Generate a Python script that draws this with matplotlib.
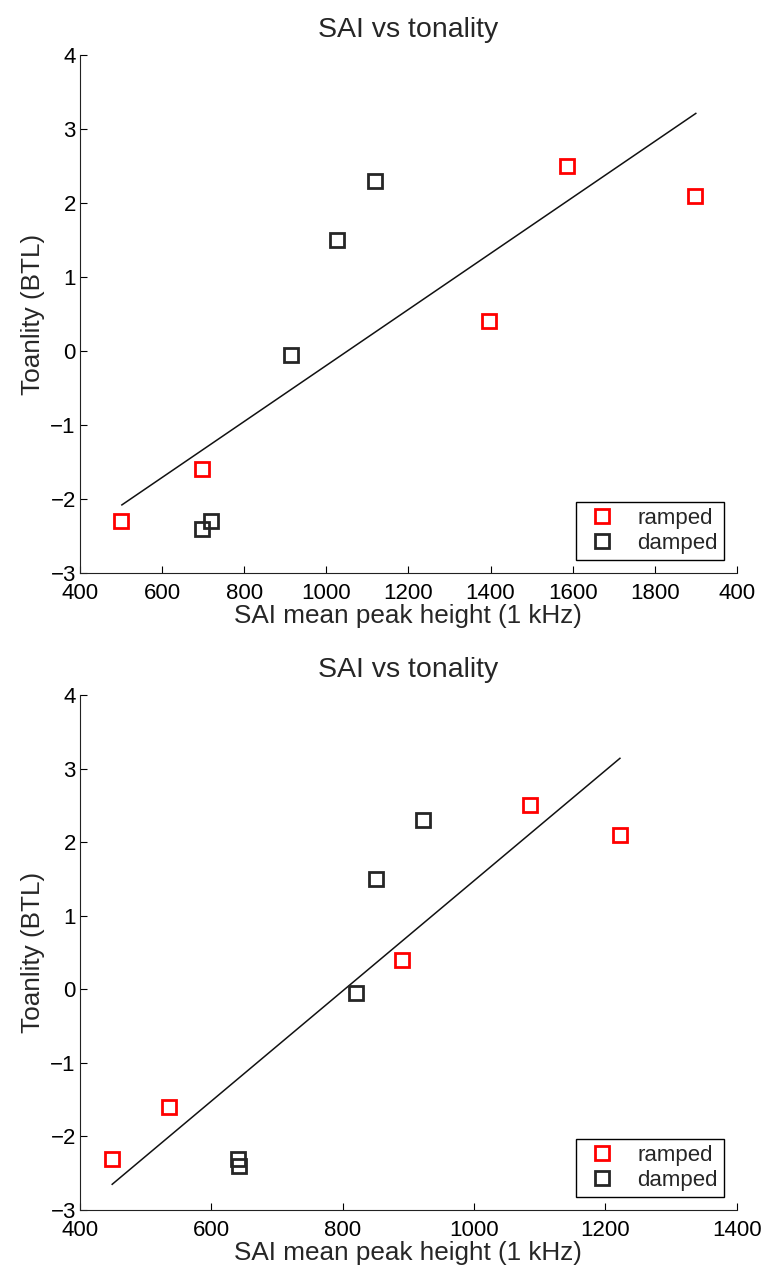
import matplotlib
matplotlib.use('Agg')
import matplotlib.pyplot as plt

plt.rcParams['font.family'] = ['Liberation Sans', 'DejaVu Sans']

# tonality (BTL) values, shared by both panels
ramped_y = [-2.3, -1.6, 0.4, 2.5, 2.1]
damped_y = [-2.4, -2.3, -0.05, 1.5, 2.3]

# panel 1: SAI mean peak height
top_ramped_x = [500, 697, 1397, 1587, 1897]
top_damped_x = [698, 718, 914, 1025, 1118]
top_fit_x = [502, 1900]
top_fit_y = [-2.08, 3.21]
top_xticks = [400, 600, 800, 1000, 1200, 1400, 1600, 1800, 2000]
top_xticklabels = ['400', '600', '800', '1000', '1200', '1400', '1600', '1800', '400']

# panel 2
bot_ramped_x = [448, 535, 890, 1085, 1222]
bot_damped_x = [641, 642, 820, 850, 922]
bot_damped_y = [-2.3, -2.4, -0.05, 1.5, 2.3]
bot_fit_x = [449, 1222]
bot_fit_y = [-2.65, 3.14]
bot_xticks = [400, 600, 800, 1000, 1200, 1400]

yticks = [-3, -2, -1, 0, 1, 2, 3, 4]
yticklabels = ['\u22123', '\u22122', '\u22121', '0', '1', '2', '3', '4']

text_color = '#262626'

fig = plt.figure(figsize=(7.62, 12.66), dpi=100)
ax1 = fig.add_axes([0.105, 0.5474, 0.862, 0.4092])
ax2 = fig.add_axes([0.105, 0.0442, 0.862, 0.4068])

panels = [
	(ax1, top_ramped_x, ramped_y, top_damped_x, damped_y, top_fit_x, top_fit_y, (400, 2000), top_xticks, top_xticklabels),
	(ax2, bot_ramped_x, ramped_y, bot_damped_x, bot_damped_y, bot_fit_x, bot_fit_y, (400, 1400), bot_xticks, [str(t) for t in bot_xticks]),
]

for ax, rx, ry, dx, dy, fx, fy, xlim, xt, xtl in panels:
	ax.plot(fx, fy, color='#111111', linewidth=1.1)
	ax.plot(rx, ry, 's', markersize=9.5, markerfacecolor='none', markeredgecolor='#ff0000', markeredgewidth=2, label='ramped', linestyle='none')
	ax.plot(dx, dy, 's', markersize=9.5, markerfacecolor='none', markeredgecolor='#262626', markeredgewidth=2, label='damped', linestyle='none')

	ax.set_xlim(*xlim)
	ax.set_ylim(-3, 4)
	ax.set_xticks(xt)
	ax.set_xticklabels(xtl)
	ax.set_yticks(yticks)
	ax.set_yticklabels(yticklabels)
	ax.spines['top'].set_visible(False)
	ax.spines['right'].set_visible(False)
	ax.spines['left'].set_color('#222222')
	ax.spines['bottom'].set_color('#222222')
	ax.tick_params(direction='in', length=5, labelsize=16, pad=3)
	ax.tick_params(axis='x', pad=7)
	ax.set_title('SAI vs tonality', fontsize=20.5, pad=13, color=text_color)
	ax.set_xlabel('SAI mean peak height (1 kHz)', fontsize=18.8, labelpad=0.5, color=text_color)
	ax.set_ylabel('Toanlity (BTL)', fontsize=18.8, labelpad=4, color=text_color)

	leg = ax.legend(loc='lower right', fontsize=16, fancybox=False, framealpha=1,
		edgecolor='black', borderaxespad=0.6, handlelength=1.8, handletextpad=0.7,
		borderpad=0.25, labelspacing=0.2)
	leg.get_frame().set_linewidth(1.0)
	for t in leg.get_texts():
		t.set_color(text_color)

fig.savefig('out.png', dpi=100)
